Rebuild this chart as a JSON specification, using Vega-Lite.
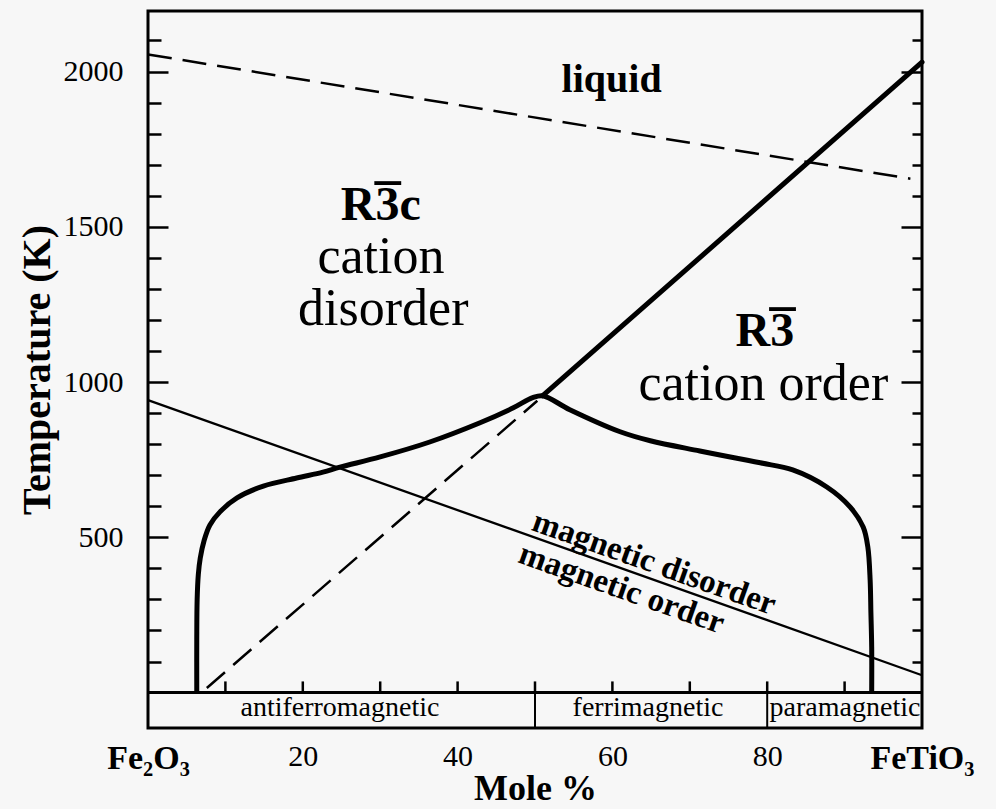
{
  "$schema": "https://vega.github.io/schema/vega-lite/v6.json",
  "width": 774,
  "height": 717,
  "autosize": {"type": "none"},
  "padding": {"left": 148, "top": 11, "right": 74, "bottom": 81},
  "background": "#f7f7f7",
  "config": {
    "view": {"stroke": "#000", "strokeWidth": 3},
    "axis": {"domain": false, "grid": false, "labelFont": "Liberation Serif", "titleFont": "Liberation Serif", "labelColor": "#000", "titleColor": "#000", "tickColor": "#000", "tickWidth": 2.5},
    "text": {"font": "Liberation Serif", "color": "#000"},
    "line": {"color": "#000"},
    "rule": {"color": "#000"}
  },
  "resolve": {"axis": {"x": "independent", "y": "independent"}},
  "data": {"values": [
    {"s": "liq", "i": 1, "x": 0, "T": 2055},
    {"s": "liq", "i": 2, "x": 98.5, "T": 1655},
    {"s": "dash", "i": 1, "x": 7.6, "T": 15},
    {"s": "dash", "i": 2, "x": 50.3, "T": 940},
    {"s": "mag", "i": 1, "x": 0, "T": 942},
    {"s": "mag", "i": 2, "x": 100, "T": 56},
    {"s": "up", "i": 1, "x": 51, "T": 956},
    {"s": "up", "i": 2, "x": 100, "T": 2030},
    {"s": "curve", "i": 1, "x": 6.3, "T": 0},
    {"s": "curve", "i": 2, "x": 6.3, "T": 170},
    {"s": "curve", "i": 3, "x": 6.35, "T": 300},
    {"s": "curve", "i": 4, "x": 6.5, "T": 380},
    {"s": "curve", "i": 5, "x": 6.75, "T": 433},
    {"s": "curve", "i": 6, "x": 7.25, "T": 490},
    {"s": "curve", "i": 7, "x": 8.0, "T": 540},
    {"s": "curve", "i": 8, "x": 9.3, "T": 582},
    {"s": "curve", "i": 9, "x": 11.5, "T": 627},
    {"s": "curve", "i": 10, "x": 14.9, "T": 665},
    {"s": "curve", "i": 11, "x": 19.2, "T": 691},
    {"s": "curve", "i": 12, "x": 22.6, "T": 710},
    {"s": "curve", "i": 13, "x": 24.8, "T": 726},
    {"s": "curve", "i": 14, "x": 30.0, "T": 759},
    {"s": "curve", "i": 15, "x": 36.4, "T": 807},
    {"s": "curve", "i": 16, "x": 42.9, "T": 869},
    {"s": "curve", "i": 17, "x": 47.2, "T": 917},
    {"s": "curve", "i": 18, "x": 49.7, "T": 950},
    {"s": "curve", "i": 19, "x": 51.0, "T": 956},
    {"s": "curve", "i": 20, "x": 54.5, "T": 911},
    {"s": "curve", "i": 21, "x": 61.0, "T": 840},
    {"s": "curve", "i": 22, "x": 64.9, "T": 811},
    {"s": "curve", "i": 23, "x": 71.3, "T": 778},
    {"s": "curve", "i": 24, "x": 79.1, "T": 740},
    {"s": "curve", "i": 25, "x": 83.3, "T": 717},
    {"s": "curve", "i": 26, "x": 87.7, "T": 662},
    {"s": "curve", "i": 27, "x": 90.7, "T": 598},
    {"s": "curve", "i": 28, "x": 92.4, "T": 533},
    {"s": "curve", "i": 29, "x": 93.0, "T": 469},
    {"s": "curve", "i": 30, "x": 93.3, "T": 362},
    {"s": "curve", "i": 31, "x": 93.4, "T": 256},
    {"s": "curve", "i": 32, "x": 93.5, "T": 147},
    {"s": "curve", "i": 33, "x": 93.5, "T": 0},
    {"s": "base", "x": 0, "T": 0},
    {"s": "sep", "x": 50, "T": 0},
    {"s": "sep", "x": 80, "T": 0},
    {"s": "tick", "x": 10, "T": 0},
    {"s": "tick", "x": 20, "T": 0},
    {"s": "tick", "x": 30, "T": 0},
    {"s": "tick", "x": 40, "T": 0},
    {"s": "tick", "x": 50, "T": 0},
    {"s": "tick", "x": 60, "T": 0},
    {"s": "tick", "x": 70, "T": 0},
    {"s": "tick", "x": 80, "T": 0},
    {"s": "tick", "x": 90, "T": 0},
    {"s": "liquid", "x": 59.9, "T": 1935, "label": "liquid"},
    {"s": "phase", "x": 24.9, "T": 1522, "label": "R3c"},
    {"s": "phase", "x": 75.9, "T": 1116, "label": "R3"},
    {"s": "desc", "x": 30.1, "T": 1351, "label": "cation"},
    {"s": "desc", "x": 30.4, "T": 1184, "label": "disorder"},
    {"s": "desc", "x": 79.5, "T": 942, "label": "cation order"},
    {"s": "magup", "x": 64.7, "T": 369, "label": "magnetic disorder"},
    {"s": "magdn", "x": 62.0, "T": 393, "label": "magnetic order"},
    {"s": "band", "x": 24.8, "T": -76, "label": "antiferromagnetic"},
    {"s": "band", "x": 64.6, "T": -76, "label": "ferrimagnetic"},
    {"s": "band", "x": 90.05, "T": -76, "label": "paramagnetic"}
  ]},
  "layer": [
    {
      "transform": [{"filter": "datum.s == 'liq'"}],
      "mark": {"type": "line", "strokeWidth": 2.5, "strokeDash": [24, 11]},
      "encoding": {
        "x": {"field": "x", "type": "quantitative", "scale": {"domain": [0, 100], "nice": false, "zero": false},
              "axis": {"orient": "bottom", "values": [20, 40, 60, 80], "ticks": false, "labelPadding": 13, "labelFontSize": 30, "labelFlush": false, "title": "Mole %", "titleFontSize": 36, "titleFontWeight": "bold", "titlePadding": 0}},
        "y": {"field": "T", "type": "quantitative", "scale": {"domain": [-114, 2195], "nice": false, "zero": false},
              "axis": {"orient": "left", "values": [100, 200, 300, 400, 600, 700, 800, 900, 1100, 1200, 1300, 1400, 1600, 1700, 1800, 1900, 2100], "tickSize": -13, "labels": false, "title": null}},
        "order": {"field": "i"}
      }
    },
    {
      "transform": [{"filter": "datum.s == 'dash'"}],
      "mark": {"type": "line", "strokeWidth": 2.5, "strokeDash": [24, 11]},
      "encoding": {
        "x": {"field": "x", "type": "quantitative", "scale": {"domain": [0, 100], "nice": false, "zero": false},
              "axis": {"orient": "bottom", "values": [0, 100], "ticks": false, "labelPadding": 13, "labelFontSize": 34, "labelFontWeight": "bold", "labelFlush": false, "labelExpr": "datum.value == 0 ? 'Fe₂O₃' : 'FeTiO₃'", "title": null}},
        "y": {"field": "T", "type": "quantitative", "scale": {"domain": [-114, 2195], "nice": false, "zero": false},
              "axis": {"orient": "left", "values": [500, 1000, 1500, 2000], "format": "d", "ticks": false, "labelPadding": 25, "labelFontSize": 30, "title": "Temperature (K)", "titleFontSize": 40, "titleFontWeight": "bold", "titlePadding": 6}},
        "order": {"field": "i"}
      }
    },
    {
      "transform": [{"filter": "datum.s == 'mag'"}],
      "mark": {"type": "line", "strokeWidth": 2.3},
      "encoding": {
        "x": {"field": "x", "type": "quantitative", "scale": {"domain": [0, 100], "nice": false, "zero": false}, "axis": null},
        "y": {"field": "T", "type": "quantitative", "scale": {"domain": [-114, 2195], "nice": false, "zero": false},
              "axis": {"orient": "left", "values": [500, 1000, 1500, 2000], "tickSize": -20, "labels": false, "title": null}},
        "order": {"field": "i"}
      }
    },
    {
      "transform": [{"filter": "datum.s == 'up'"}],
      "mark": {"type": "line", "strokeWidth": 5, "strokeCap": "round"},
      "encoding": {
        "x": {"field": "x", "type": "quantitative", "scale": {"domain": [0, 100], "nice": false, "zero": false}, "axis": null},
        "y": {"field": "T", "type": "quantitative", "scale": {"domain": [-114, 2195], "nice": false, "zero": false},
              "axis": {"orient": "right", "values": [100, 200, 300, 400, 600, 700, 800, 900, 1100, 1200, 1300, 1400, 1600, 1700, 1800, 1900, 2100], "tickSize": -10, "labels": false, "title": null}},
        "order": {"field": "i"}
      }
    },
    {
      "transform": [{"filter": "datum.s == 'curve'"}],
      "mark": {"type": "line", "strokeWidth": 5, "strokeJoin": "round", "strokeCap": "butt", "interpolate": "catmull-rom"},
      "encoding": {
        "x": {"field": "x", "type": "quantitative", "scale": {"domain": [0, 100], "nice": false, "zero": false}, "axis": null},
        "y": {"field": "T", "type": "quantitative", "scale": {"domain": [-114, 2195], "nice": false, "zero": false},
              "axis": {"orient": "right", "values": [500, 1000, 1500, 2000], "tickSize": -21, "labels": false, "title": null}},
        "order": {"field": "i"}
      }
    },
    {
      "transform": [{"filter": "datum.s == 'base'"}],
      "mark": {"type": "rule", "strokeWidth": 3},
      "encoding": {
        "x": {"datum": 0, "type": "quantitative", "scale": {"domain": [0, 100], "nice": false, "zero": false}, "axis": null},
        "x2": {"datum": 100},
        "y": {"field": "T", "type": "quantitative", "scale": {"domain": [-114, 2195], "nice": false, "zero": false}, "axis": null}
      }
    },
    {
      "transform": [{"filter": "datum.s == 'sep'"}],
      "mark": {"type": "rule", "strokeWidth": 2},
      "encoding": {
        "x": {"field": "x", "type": "quantitative", "scale": {"domain": [0, 100], "nice": false, "zero": false}, "axis": null},
        "y": {"datum": 0, "type": "quantitative", "scale": {"domain": [-114, 2195], "nice": false, "zero": false}, "axis": null},
        "y2": {"datum": -114}
      }
    },
    {
      "transform": [{"filter": "datum.s == 'tick'"}],
      "mark": {"type": "rule", "strokeWidth": 2.5},
      "encoding": {
        "x": {"field": "x", "type": "quantitative", "scale": {"domain": [0, 100], "nice": false, "zero": false}, "axis": null},
        "y": {"datum": 0, "type": "quantitative", "scale": {"domain": [-114, 2195], "nice": false, "zero": false}, "axis": null},
        "y2": {"datum": 36}
      }
    },
    {
      "transform": [{"filter": "datum.s == 'liquid'"}],
      "mark": {"type": "text", "fontSize": 40, "fontWeight": "bold", "align": "center", "baseline": "alphabetic"},
      "encoding": {
        "x": {"field": "x", "type": "quantitative", "scale": {"domain": [0, 100], "nice": false, "zero": false}, "axis": null},
        "y": {"field": "T", "type": "quantitative", "scale": {"domain": [-114, 2195], "nice": false, "zero": false}, "axis": null},
        "text": {"field": "label"}
      }
    },
    {
      "transform": [{"filter": "datum.s == 'phase'"}],
      "mark": {"type": "text", "fontSize": 48, "fontWeight": "bold", "align": "left", "baseline": "alphabetic"},
      "encoding": {
        "x": {"field": "x", "type": "quantitative", "scale": {"domain": [0, 100], "nice": false, "zero": false}, "axis": null},
        "y": {"field": "T", "type": "quantitative", "scale": {"domain": [-114, 2195], "nice": false, "zero": false}, "axis": null},
        "text": {"field": "label"}
      }
    },
    {
      "transform": [{"filter": "datum.s == 'phase'"}],
      "mark": {"type": "text", "fontSize": 52, "fontWeight": "bold", "align": "center", "baseline": "alphabetic", "dx": 47, "dy": 1, "text": "¯"},
      "encoding": {
        "x": {"field": "x", "type": "quantitative", "scale": {"domain": [0, 100], "nice": false, "zero": false}, "axis": null},
        "y": {"field": "T", "type": "quantitative", "scale": {"domain": [-114, 2195], "nice": false, "zero": false}, "axis": null}
      }
    },
    {
      "transform": [{"filter": "datum.s == 'desc'"}],
      "mark": {"type": "text", "fontSize": 52, "align": "center", "baseline": "alphabetic"},
      "encoding": {
        "x": {"field": "x", "type": "quantitative", "scale": {"domain": [0, 100], "nice": false, "zero": false}, "axis": null},
        "y": {"field": "T", "type": "quantitative", "scale": {"domain": [-114, 2195], "nice": false, "zero": false}, "axis": null},
        "text": {"field": "label"}
      }
    },
    {
      "transform": [{"filter": "datum.s == 'magup'"}],
      "mark": {"type": "text", "fontSize": 33, "fontWeight": "bold", "align": "center", "baseline": "alphabetic", "angle": 19.5, "dy": -6},
      "encoding": {
        "x": {"field": "x", "type": "quantitative", "scale": {"domain": [0, 100], "nice": false, "zero": false}, "axis": null},
        "y": {"field": "T", "type": "quantitative", "scale": {"domain": [-114, 2195], "nice": false, "zero": false}, "axis": null},
        "text": {"field": "label"}
      }
    },
    {
      "transform": [{"filter": "datum.s == 'magdn'"}],
      "mark": {"type": "text", "fontSize": 33, "fontWeight": "bold", "align": "center", "baseline": "top", "angle": 19.5, "dy": 3},
      "encoding": {
        "x": {"field": "x", "type": "quantitative", "scale": {"domain": [0, 100], "nice": false, "zero": false}, "axis": null},
        "y": {"field": "T", "type": "quantitative", "scale": {"domain": [-114, 2195], "nice": false, "zero": false}, "axis": null},
        "text": {"field": "label"}
      }
    },
    {
      "transform": [{"filter": "datum.s == 'band'"}],
      "mark": {"type": "text", "fontSize": 28, "align": "center", "baseline": "alphabetic"},
      "encoding": {
        "x": {"field": "x", "type": "quantitative", "scale": {"domain": [0, 100], "nice": false, "zero": false}, "axis": null},
        "y": {"field": "T", "type": "quantitative", "scale": {"domain": [-114, 2195], "nice": false, "zero": false}, "axis": null},
        "text": {"field": "label"}
      }
    }
  ]
}
